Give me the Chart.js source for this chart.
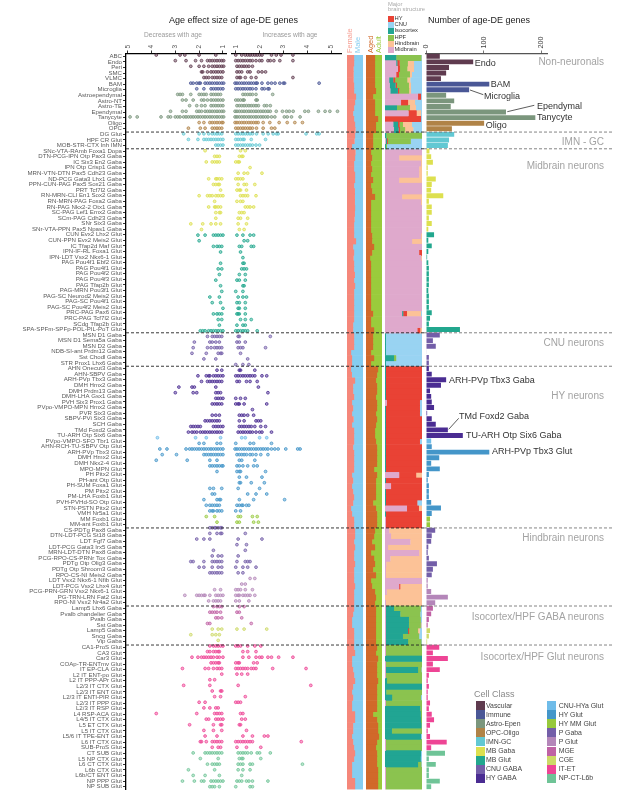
<!DOCTYPE html>
<html lang="en">
<head>
<meta charset="UTF-8">
<title>Age-DE genes by cell type</title>
<script src="https://cdn.jsdelivr.net/npm/chart.js"></script>
<style>
    html, body { margin: 0; padding: 0; background: #fff; overflow: hidden; }
    body { width: 626px; height: 807px; position: relative; font-family: "Liberation Sans", Arial, sans-serif; }
    canvas { position: absolute; top: 0; }
    svg { position: absolute; left: 0; top: 0; }
    .txt { position: absolute; white-space: nowrap; line-height: 1; transform: translateY(-50%); }
    .rot { position: absolute; white-space: nowrap; line-height: 1; transform-origin: 0 0; transform: rotate(-90deg) translateY(-50%); }
    .swatch { position: absolute; }
</style>
</head>
<body>
<canvas id="dotsDown" width="227" height="807" style="left:0"></canvas>
<canvas id="dotsUp" width="111" height="807" style="left:231px"></canvas>
<canvas id="sexPanel" width="16" height="807" style="left:347px"></canvas>
<canvas id="agePanel" width="16" height="807" style="left:366px"></canvas>
<canvas id="brainPanel" width="37" height="807" style="left:385px"></canvas>
<canvas id="countBars" width="132" height="807" style="left:416px"></canvas>
<svg id="overlay" width="626" height="807"></svg>
<script>
// rows of the figure, top to bottom
const rowLabels = [
    'ABC', 'Endo', 'Peri', 'SMC', 'VLMC', 'BAM', 'Microglia', 'Astroependymal', 'Astro-NT', 'Astro-TE', 'Ependymal', 'Tanycyte', 'Oligo', 'OPC',
    'DG Glut', 'HPF CR Glut', 'MOB-STR-CTX Inh IMN',
    'SNc-VTA-RAmb Foxa1 Dopa', 'DTN-PCG-IPN Otp Pax3 Gaba', 'IC Six3 En2 Gaba', 'IPN Otp Crisp1 Gaba', 'MRN-VTN-DTN Pax5 Cdh23 Gaba', 'ND-PCG Gata3 Lhx1 Gaba', 'PPN-CUN-PAG Pax5 Sox21 Gaba', 'PRT Tcf7l2 Gaba', 'RN-MRN-CLI En1 Sox2 Gaba', 'RN-MRN-PAG Foxa2 Gaba', 'RN-PAG Nkx2-2 Otx1 Gaba', 'SC-PAG Lef1 Emx2 Gaba', 'SCm-PAG Cdh23 Gaba', 'SNr Six3 Gaba', 'SNr-VTA-PPN Pax5 Npas1 Gaba',
    'CUN Evx2 Lhx2 Glut', 'CUN-PPN Evx2 Meis2 Glut', 'IC Tfap2d Maf Glut', 'IPN-IF-RL Foxa1 Glut', 'IPN-LDT Vsx2 Nkx6-1 Glut', 'PAG Pou4f1 Ebf2 Glut', 'PAG Pou4f1 Glut', 'PAG Pou4f2 Glut', 'PAG Pou4f3 Glut', 'PAG Tfap2b Glut', 'PAG-MRN Pou3f1 Glut', 'PAG-SC Neurod2 Meis2 Glut', 'PAG-SC Pou4f1 Glut', 'PAG-SC Pou4f2 Meis2 Glut', 'PRC-PAG Pax6 Glut', 'PRC-PAG Tcf7l2 Glut', 'SCdg Tfap2b Glut', 'SPA-SPFm-SPFp-POL-PIL-PoT Glut',
    'MSN D1 Gaba', 'MSN D1 Sema5a Gaba', 'MSN D2 Gaba', 'NDB-SI-ant Prdm12 Gaba', 'Sst Chodl Gaba', 'STR Prox1 Lhx6 Gaba',
    'AHN Onecut3 Gaba', 'AHN-SBPV Gaba', 'ARH-PVp Tbx3 Gaba', 'DMH Hmx2 Gaba', 'DMH Prdm13 Gaba', 'DMH-LHA Gsx1 Gaba', 'PVH Six3 Prox1 Gaba', 'PVpo-VMPO-MPN Hmx2 Gaba', 'PVR Six3 Gaba', 'SBPV-PVi Six3 Gaba', 'SCH Gaba', 'TMd Foxd2 Gaba', 'TU-ARH Otp Six6 Gaba',
    'PVpo-VMPO-SFO Tbr1 Glut', 'AHN-RCH-TU-SBPV Otp Glut', 'ARH-PVp Tbx3 Glut', 'DMH Hmx2 Glut', 'DMH Nkx2-4 Glut', 'MPO-MPN Glut', 'PH Pitx2 Glut', 'PH-ant Otp Glut', 'PH-SUM Foxa1 Glut', 'PM Pitx2 Glut', 'PM-LHA Foxb1 Glut', 'PVH-PVHd-SO Otp Glut', 'STN-PSTN Pitx2 Glut', 'VMH Nr5a1 Glut', 'MM Foxb1 Glut', 'MM-ant Foxb1 Glut',
    'CS-PDTg Pax8 Gaba', 'DTN-LDT-PCG St18 Gaba', 'LDT Fgf7 Gaba', 'LDT-PCG Gata3 Irx5 Gaba', 'MRN-LDT-DTN Pax8 Gaba', 'PCG-RPO-CS-PRNr Tox Gaba', 'PDTg Otp Olig3 Gaba', 'PDTg Otp Shroom3 Gaba', 'RPO-CS-NI Meis2 Gaba', 'LDT Vsx2 Nkx6-1 Nfib Glut', 'LDT-PCG Vsx2 Lhx4 Glut', 'PCG-PRN-GRN Vsx2 Nkx6-1 Glut', 'PG-TRN-LRN Fat2 Glut', 'RPO-NI Vsx2 Nr4a2 Glut',
    'Lamp5 Lhx6 Gaba', 'Pvalb chandelier Gaba', 'Pvalb Gaba', 'Sst Gaba', 'Lamp5 Gaba', 'Sncg Gaba', 'Vip Gaba',
    'CA1-ProS Glut', 'CA3 Glut', 'Car3 Glut', 'COAp-TR-ENTmv Glut', 'IT EP-CLA Glut', 'L2 IT ENT-po Glut', 'L2 IT PPP-APr Glut', 'L2/3 IT CTX Glut', 'L2/3 IT ENT Glut', 'L2/3 IT ENTl-PIR Glut', 'L2/3 IT PPP Glut', 'L2/3 IT RSP Glut', 'L4 RSP-ACA Glut', 'L4/5 IT CTX Glut', 'L5 ET CTX Glut', 'L5 IT CTX Glut', 'L5/6 IT TPE-ENT Glut', 'L6 IT CTX Glut', 'SUB-ProS Glut',
    'CT SUB Glut', 'L5 NP CTX Glut', 'L6 CT CTX Glut', 'L6b CTX Glut', 'L6b/CT ENT Glut', 'NP PPP Glut', 'NP SUB Glut'
];

const cellClasses = ['Vascular', 'Immune', 'Astro-Epen', 'OPC-Oligo', 'IMN-GC', 'MB Gaba', 'MB Glut', 'CNU GABA', 'HY GABA', 'CNU-HYa Glut', 'HY Glut', 'HY MM Glut', 'P Gaba', 'P Glut', 'MGE', 'CGE', 'IT-ET', 'NP-CT-L6b'];
const cellClassColors = ['#5f3b4f', '#4a5796', '#7b967d', '#b08347', '#62c8d3', '#dde04f', '#22a78e', '#735ea8', '#4a2c92', '#6fbce9', '#4496c9', '#97c93c', '#735ea8', '#b486b9', '#c062a5', '#cdd966', '#ee4595', '#6fc497'];
// how many consecutive rows belong to each cell class
const cellClassRows = [5, 2, 5, 2, 3, 15, 18, 6, 13, 1, 13, 2, 9, 5, 4, 3, 19, 7];

const sectionBreaks = [14, 17, 50, 56, 85, 99, 106];

// the dot panel has one row fewer than the label column: no dots for this label
const rowWithoutDots = 'PVpo-VMPO-MPN Hmx2 Gaba';

// absolute age effect, genes going down with age, one list per dot row
const decreaseEffect = [
    [3.8,2.8,2.6,2,1.3],
    [3,2.55,2.15,1.9,1.65,1.55,1.45,1.35,1.25,1.15,1.05,0.97],
    [2.35,2,1.8,1.6,1.45,1.35,1.25,1.15,1.05,0.97],
    [1.9,1.85,1.65,1.5,1.4,1.3,1.2,1.1,1],
    [1.8,1.7,1.6,1.45,1.35,1.25,1.15,1.05],
    [2.35,2.25,2.1,2,1.95,1.75,1.65,1.55,1.45,1.35,1.25,1.15,1.05,0.97],
    [2.1,1.8,1.5,1.4,1.3,1.2,1.1,1],
    [2.9,2.8,2.7,2.35,2,1.9,1.8,1.7,1.5,1.4,1.3,1.2,1.1],
    [2.7,2.55,2.25,1.9,1.8,1.65,1.5,1.4,1.3,1.2,1.1,1],
    [2.4,2.1,1.9,1.75,1.5,1.4,1.3,1.2,1.1,1],
    [3.2,2.7,2.55,2.1,2,1.9,1.75,1.65,1.55,1.45,1.35,1.25,1.15,1.05,0.97],
    [4.9,4.6,3.6,3.3,3.2,3,2.9,2.8,2.65,2.55,2.45,2.35,2.25,2.15,2.05,1.95,1.85,1.75,1.65,1.55,1.45,1.35,1.25,1.15,1.05,0.97],
    [2,1.8,1.55,1.45,1.35,1.25,1.15,1.05,1],
    [2.45,1.95,1.75,1.45,1.35,1.25,1.15,1.05],
    [2.65,2,1.8,1.6,1.45,1.35,1.25,1.15,1.05],
    [2.45,2.05,1.8,1.7,1.6,1.5,1.4,1.3,1.2,1.1,1],
    [1.3,1.2,1.1,1],
    [1.75],
    [1.35,1.25,1.15],
    [1.7,1.45,1.35,1.25,1.15],
    [],
    [],
    [1.6,1.3,1.25,1.15,1.05],
    [1.4,1.3,1.2,1.15],
    [1.1],
    [2,1.65,1.55,1.45,1.3,1.2,1.1,1],
    [1.35],
    [1.6,1.35,1.3,1.2,1.1],
    [1.3,1.15,1.1],
    [1.3],
    [2.35,1.85,1.5,1.3,1.1],
    [1.9],
    [2.05,1.75,1.4,1.3,1.2,1.1,1],
    [2],
    [1.4,1.25,1.15,1.05],
    [1.1],
    [],
    [1.1],
    [1.2,1.05],
    [1.15],
    [1.3],
    [1.1],
    [1.05],
    [1.55,1.15],
    [1.45,1.1],
    [1],
    [1.4,1.25,1.15,1.05],
    [1.2,1.05],
    [1.15],
    [1.95,1.85,1.75,1.6,1.5,1.4,1.3,1.2,1.1,1],
    [1.65,1.45,1.35,1.25,1.15,1.05],
    [2.2,1.55,1.45,1.3,1.15],
    [2.25,1.65,1.5,1.35,1.25,1.15,1.05],
    [2.3,1.7,1.2,1.1,1.05],
    [1.8,1.3],
    [],
    [1.25,1.05],
    [2.05,1.7,1.6,1.55,1.4,1.3,1.2,1.1,1],
    [1.9,1.65,1.55,1.45,1.35,1.25,1.15,1.05],
    [2.85,2.3,2.2,1.3],
    [3,2.25,2.1,1.3,1.2,1.1],
    [1.3,1.2,1.1,1],
    [1.45,1.35,1.25,1.15,1.05],
    [],
    [1.45,1.3,1.15],
    [1.75,1.65,1.55,1.45,1.35,1.25,1.15],
    [2.35,2.25,2.15,2.05,1.95,1.4,1.3,1.2,1.1,1],
    [2.45,2.3,2.2,2.1,1.95,1.85,1.75,1.65,1.55,1.45,1.35,1.25,1.15,1.05],
    [3.75,2.15,1.7,1.1],
    [2,1.8,1.25,1.1],
    [3.65,3.35,2.55,2.4,2.3,2.2,2.1,2,1.9,1.8,1.7,1.6,1.5,1.4,1.3,1.2,1.1,1],
    [3.55,2.95,1.8,1.7,1.6,1.5,1.4,1.3,1.2,1.1,1],
    [3.8,2.5,1.55,1.25],
    [1.55,1.45,1.35,1.25,1.15,1.05,1],
    [1.25],
    [],
    [],
    [1.55,1.4,1.05],
    [1.45,1.35],
    [1.8,1.25,1.15,1.1],
    [1.7,1.55,1.45,1.35,1.25,1.15],
    [1.55,1.45,1.4,1.25,1.15,1.05],
    [1.7,1.35],
    [1.25],
    [1.55,1.45,1.35,1.3,1.2,1.1,1.05],
    [1.55,1.25,1.1,1.05],
    [2.1,1.8,1.55],
    [],
    [1.4],
    [1.45,1.2,1.05],
    [2.35,2.25,1.8,1.45,1.35,1.25,1.15,1.05],
    [2,1.8,1.45,1.2,1.05],
    [1.55,1.45,1.35,1.25,1.15,1.05],
    [],
    [],
    [1.35,1.1],
    [2.6,2.1,2,1.9,1.8,1.75,1.55,1.3,1.2,1.1,1],
    [1.6,1.4,1.3,1.2,1.1],
    [1.4,1.25,1.15,1.05],
    [1.55,1.45,1.35,1.25,1.1],
    [1.3,1.2,1.05],
    [1.65,1.55],
    [1.45,1.2,1.05],
    [2.35,1.45,1.3,1.15],
    [1.2],
    [1.55,1.4,1.3,1.2,1.1,1],
    [1.65,1.55,1.4,1.3,1.2,1.15],
    [2.3,2.05,1.9,1.8,1.7,1.6,1.5,1.4,1.25,1.15,1],
    [1.5,1.4,1.3,1.2,1.15],
    [2.7,1.75,1.6,1.4,1.25,1.15,1.05],
    [1.05],
    [1.55,1.35],
    [2.65,1.55],
    [1.45,1.1,1.05],
    [1.35,1.1],
    [2,1.75],
    [1.8,1.55,1.3,1.2],
    [3.8,2.1,1.35,1.25,1.15,1.05],
    [1.7,1.6,1.3,1.2,1.1,1],
    [2.4,1.4,1.1,1.05],
    [1.8,1.4,1.05],
    [1.75,1.25],
    [1.95,1.9,1.7,1.45,1.35,1.25,1.15,1.05],
    [1.45,1.2,1.1],
    [2.25,1.75,1.65,1.55,1.45,1.35,1.25,1.15,1.05],
    [1.95,1.2],
    [1.65,1.45,1.35,1.25,1.15],
    [2.45,1.35],
    [2.25,1.75,1.15],
    [2.7,2.2,1.9,1.8,1.5,1.4,1.3,1.2,1.1,1],
    [1.55,1.45,1.35,1.15]
];

// age effect, genes going up with age, one list per dot row
const increaseEffect = [
    [1,1.25,1.4,1.5,1.6,1.7,1.8,1.9,2,2.1,2.5,2.7,2.9,3.4],
    [1,1.1,1.2,1.3,1.4,1.5,1.6,1.7,1.85,2,2.1,2.35,2.45,2.6,2.85,3.4],
    [1.05,1.15,1.25,1.35,1.45,1.55,1.7],
    [1.05,1.15,1.25,1.5,1.6,1.95,2.1,2.25],
    [1.05,1.15,1.2,1.4,1.65,1.85,3.4],
    [0.97,1.05,1.15,1.25,1.35,1.45,1.55,1.65,1.75,1.85,1.9,2.1,2.35,2.5,2.65,2.85,3,3.05,4.5],
    [1,1.1,1.2,1.3,1.4,1.5,1.6,1.7,1.85,2.1,2.2,2.35,2.4],
    [1.3,1.4,1.5,1.6,1.7,1.85,2.55],
    [1,1.1,1.2,1.3,1.35,1.85,1.9],
    [1.05,1.15,1.25,1.35,1.45,1.55,1.65,1.75,1.85,1.95,2.2,2.3,2.45],
    [0.97,1.05,1.15,1.25,1.35,1.45,1.55,1.65,1.75,1.85,1.95,2.05,2.15,2.25,2.35,2.45,2.7,2.96,3.13,3.25,3.41,3.9,4.05,4.47,4.75,4.95,5.27],
    [0.97,1.05,1.15,1.25,1.35,1.45,1.55,1.65,1.75,1.85,1.95,2.05,2.15,2.25,2.35,2.5,2.64,3.04,3.16,3.34,3.7],
    [0.97,1.05,1.15,1.25,1.35,1.45,1.55,1.65,1.75,1.85,1.94,2.15,2.43,2.82,3.16,3.48,3.8],
    [1,1.1,1.2,1.3,1.4,1.5,1.6,1.7,1.87,2.15,2.5,2.64],
    [1,1.1,1.2,1.3,1.4,1.5,1.6,1.7,1.87,2.15,2.36,2.57,2.71,2.78,3.95,4.4,4.5],
    [1,1.1,1.2,1.3,1.35,1.65,2.25],
    [1,1.1,1.2,1.3,1.4,1.5,1.6,1.7,1.85,2],
    [1.2,1.4],
    [1.15,1.25,1.3],
    [1,1.1,1.15],
    [1.6],
    [1.1,1.35,1.5,2.1],
    [1,1.1,1.2,1.3],
    [1.1,1.35,1.45,1.8],
    [1.05,1.15,1.2,1.45],
    [1.2,1.3,1.4,1.5,1.85],
    [1.05,1.2,1.3],
    [1.4,1.5,1.6,1.75],
    [1.15,1.25,1.35],
    [1.1,1.2,1.5],
    [1.1,1.45],
    [1.15,1.35],
    [1.05,1.3,1.6,1.75],
    [1.35,1.5],
    [1.15,1.25,1.65,1.75],
    [1.2],
    [1.3],
    [1.3,1.35],
    [1.25,1.35,1.45],
    [1.15,1.4],
    [1.05,1.15,1.4],
    [1.3,1.35],
    [1,1.3],
    [1.1,1.3,1.45],
    [1.05,1.15,1.4],
    [1.1,1.15,1.4],
    [1.05,1.1,1.15,1.4],
    [1.2,1.4,1.65],
    [1.05,1.3,1.4],
    [1,1.1,1.2,1.3,1.4,1.5,1.9],
    [1.1,1.15,2.45],
    [1.05,1.15,1.4],
    [1.1,1.2,1.3,2.25],
    [1.2],
    [1.5],
    [1,1.3,1.55],
    [1.15,1.2,1.8],
    [1,1.1,1.2,1.3,1.4,1.5,1.6,1.7,1.8,2.1,2.3],
    [1.05,1.15,1.45,1.6,1.9],
    [1.95],
    [2.35],
    [1,1.2,1.4],
    [1,1.1,1.15,1.35,2.3],
    [1.7],
    [1.15,1.25,1.35,1.5,1.75],
    [1.15,1.35,1.85,1.95,2.05],
    [1.15,1.25,1.35,1.45,1.55,1.65,1.8,2.05,2.25],
    [1.1,1.2,1.3,1.4,1.5,1.6,1.7,1.85,2,2.1,2.5],
    [1.25,1.4,2,2.3],
    [1,1.6,1.75,2.5],
    [0.97,1.05,1.15,1.25,1.35,1.45,1.55,1.65,1.75,1.85,1.95,2.05,2.15,2.25,2.35,2.5,2.64,2.78,3.1,3.6,3.7],
    [1.05,1.15,1.25,1.35,1.45,1.6,1.7,1.85,2.05,2.35],
    [1.15,1.25,1.8],
    [1.05,1.15,1.3,1.5,1.75,1.9],
    [1.05,1.15,1.2,2.25],
    [1.15,1.45,2.1],
    [1.15,1.2,1.65,2.2],
    [1.1,2],
    [1.5,1.85,2.3],
    [1.15,1.75,3.05],
    [1.05,1.15,1.25,1.3,1.45,1.55],
    [1,1.2],
    [1.1,1.2,1.7,1.9],
    [1.05,1.15,1.75,1.95],
    [],
    [1.4],
    [1.1,2.1],
    [1.05,1.45],
    [1.4],
    [1.1],
    [1.05,1.4,1.5,1.6],
    [1,1.3,1.5,1.85],
    [1.1,1.3],
    [1.6,1.8],
    [1.25,1.4],
    [1,1.1,1.2,1.4,1.7],
    [1,1.1,1.15,1.3,1.4,1.5,1.6,1.8],
    [1,1.15,1.55],
    [1.15,1.35],
    [1.05,1.15],
    [1.25],
    [1.65],
    [1.05,1.35,2.3],
    [],
    [],
    [1,1.1,1.2,1.5,1.8,2.05],
    [1.3,1.5,1.85],
    [1.3,1.55,1.85,2,2.1,2.35,2.5,2.8,3.4],
    [1,1.1,1.15,1.75,1.9],
    [1,1.1,1.2,1.3,1.4,1.5,1.65,1.75,1.85,2.55,3.95],
    [1.05,1.25,1.5],
    [],
    [1.1,4.15],
    [],
    [1.4],
    [1,1.1,1.2],
    [],
    [1.2,1.3],
    [1.25,1.4],
    [1.15,1.2],
    [1.45],
    [1.3,1.7,2.2,2.35],
    [1,1.1,1.2,1.3,1.4,1.5,1.6,1.7,3.75],
    [1.05,1.45,2.05],
    [1.1,1.2,1.3,1.4,1.5,1.65,1.9,2,2.45],
    [1.15,1.25,1.3,2.05],
    [1.1,1.2,1.3,1.6,1.7,3.8],
    [1.1,1.3,1.6],
    [1.25],
    [1.05,1.15,1.25,1.45,1.55,1.7,2.35],
    [1,1.6,1.7]
];

// % female cells per row
const femaleShare = [
    44,44,40,40,40,44,44,56,50,44,38,44,50,52,
    50,46,31,
    52,50,44,44,50,50,44,48,48,48,50,48,46,44,44,44,56,38,44,40,44,44,48,44,50,44,44,44,44,44,44,38,38,
    44,44,44,25,31,31,
    25,29,50,38,38,44,31,38,31,40,31,44,44,44,38,44,44,44,44,31,38,31,38,44,38,25,31,44,44,
    50,50,44,50,44,44,50,44,44,44,50,44,44,44,
    44,38,31,31,44,44,44,
    44,50,31,31,38,44,50,38,31,38,31,31,50,50,38,38,31,38,44,50,44,31,31,31,50,50
];

// % cells from aged mice per row
const agedShare = [
    56,56,56,56,56,56,62,44,56,56,56,75,62,62,
    44,44,44,
    31,38,31,38,31,44,31,38,56,31,31,31,31,31,31,38,38,50,38,25,31,31,31,31,31,31,31,31,31,44,31,31,50,
    44,44,44,31,50,31,
    75,69,62,69,69,62,69,69,62,69,62,56,56,62,69,69,69,69,50,69,62,62,62,62,44,62,69,69,69,
    56,50,38,56,31,50,56,44,62,31,38,56,62,56,
    62,62,62,62,62,62,62,
    69,62,75,69,69,69,75,69,69,69,69,69,44,69,75,75,81,69,62,69,69,69,75,75,75,75
];

// major brain structure composition per row, %
const midbrainShare = [
    0,30,34,30,11,12,14,89,43,0,63,0,22,24,
    0,2,0,
    100,38,97,92,92,38,100,100,46,97,100,100,100,100,100,97,73,100,92,97,100,100,100,100,100,100,100,100,100,46,100,100,87,
    0,0,0,0,0,0,
    0,0,0,0,0,0,4,0,0,0,0,0,0,0,0,0,0,0,0,38,0,16,0,0,0,59,0,2,2,
    11,16,68,8,92,14,3,2,2,100,38,4,0,2,
    2,2,2,2,2,2,2,
    2,2,0,2,2,2,0,0,0,0,2,0,0,0,0,0,0,2,2,0,0,0,2,2,2,2
];
const isocortexShare = [
    30,3,0,0,11,16,20,0,0,32,0,0,13,12,
    3,3,2,
    0,0,0,0,0,0,0,0,0,0,0,0,0,0,0,0,0,0,0,0,0,0,0,0,0,0,0,0,0,3,0,0,0,
    2,2,2,2,24,2,
    2,2,2,2,2,2,0,2,2,2,2,2,2,2,2,2,2,2,2,0,2,0,2,2,2,0,2,0,0,
    0,0,0,0,0,0,0,0,0,0,0,0,0,0,
    22,39,62,62,60,46,60,
    0,0,100,0,87,0,5,100,3,19,0,95,96,97,98,18,97,0,0,97,96,89,0,0,0,0
];
const hyShare = [
    0,6,6,7,5,4,4,8,19,0,22,97,4,4,
    0,2,0,
    0,0,0,0,0,0,0,0,0,0,0,0,0,0,0,0,0,0,8,0,0,0,0,0,0,0,0,0,0,10,0,0,8,
    0,0,0,0,0,0,
    98,98,98,98,98,98,90,92,92,98,98,98,98,92,98,98,98,98,98,46,98,84,98,98,85,32,98,98,98,
    0,0,0,0,0,0,0,0,0,0,3,0,0,0,
    0,0,0,0,3,0,0,
    0,0,0,0,0,0,0,0,0,0,0,0,0,0,0,0,0,0,0,0,0,0,0,0,0,0
];
const hpfShare = [
    68,22,20,30,33,32,27,0,0,35,0,0,9,14,
    97,62,3,
    0,0,0,0,0,0,0,0,0,0,0,0,0,0,0,0,0,0,0,0,0,0,0,0,0,0,0,0,0,0,0,0,0,
    0,0,0,0,6,0,
    0,0,0,0,0,0,0,0,0,0,0,0,0,0,0,0,0,0,0,0,0,0,0,0,0,0,0,0,0,
    0,0,0,0,0,0,0,0,0,0,0,0,0,0,
    72,54,32,32,24,44,36,
    98,98,0,98,9,98,95,0,97,78,98,5,4,3,2,82,0,98,98,0,0,9,98,98,98,98
];
const hindbrainShare = [
    0,17,18,5,8,6,5,0,19,16,12,0,24,22,
    0,0,0,
    0,62,3,8,8,62,0,0,54,3,0,0,0,0,0,3,27,0,0,3,0,0,0,0,0,0,0,0,0,38,0,0,5,
    0,0,0,0,0,0,
    0,0,0,0,0,0,0,0,0,0,0,0,0,0,0,0,0,0,0,16,0,0,0,0,0,8,0,0,0,
    89,84,32,92,8,86,97,98,98,0,59,96,100,98,
    0,0,0,2,4,0,0,
    0,0,0,0,0,0,0,0,0,0,0,0,0,0,0,0,0,0,0,0,0,0,0,0,0,0
];
const cnuShare = [
    2,22,22,28,32,30,30,3,19,17,3,3,28,24,
    0,31,95,
    0,0,0,0,0,0,0,0,0,0,0,0,0,0,0,0,0,0,0,0,0,0,0,0,0,0,0,0,0,3,0,0,0,
    98,98,98,98,70,98,
    0,0,0,0,0,0,6,6,6,0,0,0,0,6,0,0,0,0,0,0,0,0,0,0,13,3,0,0,0,
    0,0,0,0,0,0,0,0,0,0,0,0,0,0,
    4,5,4,2,7,8,2,
    0,0,0,0,2,0,0,0,0,3,0,0,0,0,0,0,3,0,0,3,4,2,0,0,0,0
];

// number of age-DE genes per row
const geneCounts = [
    24,82,40,35,26,110,75,35,49,43,139,190,101,45,
    49,40,38,
    6,9,12,3,3,17,10,9,30,5,10,10,5,10,4,14,4,10,4,2,4,5,5,5,5,4,5,5,5,10,7,5,59,
    24,12,17,1,5,5,
    5,10,35,26,7,9,10,14,2,10,17,38,64,9,10,110,23,9,24,5,3,5,5,5,9,26,10,7,7,
    16,10,9,4,3,5,19,12,10,3,3,9,38,16,
    12,9,5,3,7,5,2,
    23,12,38,12,24,5,3,5,3,3,7,5,10,14,7,3,7,36,9,33,5,17,5,5,24,9
];

const effectTicks = [1, 2, 3, 4, 5];
const countTicks = [0, 100, 200];

const structureNames = ['HY', 'CNU', 'Isocortex', 'HPF', 'Hindbrain', 'Midbrain'];
const structureColors = { Midbrain: '#dfa9cc', Isocortex: '#21a593', HY: '#e94235', HPF: '#8bc34f', Hindbrain: '#fcc297', CNU: '#99d3f2' };

const sectionTitles = [['Non-neuronals', 62], ['IMN - GC', 141.7], ['Midbrain neurons', 165.7], ['CNU neurons', 343], ['HY neurons', 396], ['Hindbrain neurons', 538], ['Isocortex/HPF GABA neurons', 616.7], ['Isocortex/HPF Glut neurons', 657.3]];
const barNotes = [['Endo', 474.7, 63], ['BAM', 490.7, 84], ['Microglia', 484, 96], ['Ependymal', 537, 106], ['Tanycyte', 537, 117], ['Oligo', 485.7, 125], ['ARH-PVp Tbx3 Gaba', 449, 379.7], ['TMd Foxd2 Gaba', 459, 416], ['TU-ARH Otp Six6 Gaba', 466, 434.7], ['ARH-PVp Tbx3 Glut', 492, 450.7]];
const noteLeaders = [[470, 90, 483.3, 94.7], [507.3, 111.7, 534.3, 105.3], [448.7, 429.3, 458.7, 418.3]];

// shared vertical frame of all panels
const plotTop = 53.5, plotBottom = 789.5;
const rowHeight = (plotBottom - plotTop) / rowLabels.length;

const rowColors = cellClassRows.flatMap((n, i) => Array(n).fill(cellClassColors[i]));
const dotRowColors = rowColors.filter((c, i) => rowLabels[i] !== rowWithoutDots);

Chart.defaults.font.family = '"Liberation Sans", Arial, sans-serif';
Chart.defaults.animation = false;
Chart.defaults.responsive = false;
Chart.defaults.maintainAspectRatio = false;
Chart.defaults.plugins.legend.display = false;
Chart.defaults.plugins.tooltip.enabled = false;

function topAxisFit(scale) {
    scale.height = plotTop;
    scale.paddingLeft = 0;
    scale.paddingRight = 0;
}

function effectAxis(min, max, reverse) {
    return {
        type: 'linear', position: 'top', min: min, max: max, reverse: reverse,
        afterFit: topAxisFit,
        afterBuildTicks: s => { s.ticks = effectTicks.map(v => ({ value: v })); },
        grid: { drawOnChartArea: false, tickLength: 3, color: '#000', tickWidth: 0.8 },
        border: { color: '#000', width: 1.3 },
        // rotated labels end up left of their tick otherwise
        ticks: { minRotation: 90, maxRotation: 90, padding: 2, labelOffset: 8, color: '#555', font: { size: 6.5 } }
    };
}

function dotDataset(effects) {
    const points = [], colors = [];
    effects.forEach((list, row) => list.forEach(v => {
        points.push({ x: v, y: row });
        colors.push(dotRowColors[row]);
    }));
    return {
        data: points,
        yAxisID: 'yDots',
        pointRadius: 1.4,
        pointBorderWidth: 0.8,
        pointBorderColor: colors,
        pointBackgroundColor: colors.map(c => c + '77')
    };
}

// dot rows are a little wider spaced than the label rows
const dotRowAxis = { type: 'linear', display: false, reverse: true, min: -0.27, max: 130.5 };

new Chart(document.getElementById('dotsDown'), {
    type: 'scatter',
    data: { datasets: [dotDataset(decreaseEffect)] },
    options: {
        layout: { autoPadding: false, padding: { bottom: 807 - plotBottom } },
        scales: {
            x: effectAxis(0.83, 5.07, true),
            y: {
                type: 'category', labels: rowLabels, offset: true, position: 'left',
                afterFit: s => { s.width = 126; },
                grid: { drawOnChartArea: false, tickLength: 3, color: '#000', tickWidth: 0.8 },
                border: { color: '#000', width: 1.3 },
                ticks: { autoSkip: false, padding: 1, color: '#5a5a5a', font: { size: 6.1 } }
            },
            yDots: dotRowAxis
        }
    }
});

new Chart(document.getElementById('dotsUp'), {
    type: 'scatter',
    data: { datasets: [dotDataset(increaseEffect)] },
    options: {
        layout: { autoPadding: false, padding: { bottom: 807 - plotBottom } },
        scales: {
            x: effectAxis(0.8, 5.46, false),
            y: { display: false },
            yDots: dotRowAxis
        }
    }
});

function stackedPanel(id, series) {
    new Chart(document.getElementById(id), {
        type: 'bar',
        data: {
            labels: rowLabels,
            datasets: series.map(s => ({
                data: s.values, backgroundColor: s.color, borderColor: s.color, borderWidth: 0.2,
                barPercentage: 1, categoryPercentage: 1
            }))
        },
        options: {
            indexAxis: 'y',
            layout: { padding: { top: plotTop + 1.5, bottom: 807 - plotBottom } },
            scales: {
                x: { display: false, stacked: true, min: 0, max: 100 },
                y: { display: false, stacked: true }
            }
        }
    });
}

stackedPanel('sexPanel', [
    { values: femaleShare, color: '#f5877a' },
    { values: femaleShare.map(v => 100 - v), color: '#85cdf0' }
]);
stackedPanel('agePanel', [
    { values: agedShare, color: '#d1692a' },
    { values: agedShare.map(v => 100 - v), color: '#9acb3c' }
]);
stackedPanel('brainPanel', [
    { values: midbrainShare, color: structureColors.Midbrain },
    { values: isocortexShare, color: structureColors.Isocortex },
    { values: hyShare, color: structureColors.HY },
    { values: hpfShare, color: structureColors.HPF },
    { values: hindbrainShare, color: structureColors.Hindbrain },
    { values: cnuShare, color: structureColors.CNU }
]);

new Chart(document.getElementById('countBars'), {
    type: 'bar',
    data: {
        labels: rowLabels,
        datasets: [{ data: geneCounts, backgroundColor: rowColors, barPercentage: 0.88, categoryPercentage: 1 }]
    },
    options: {
        indexAxis: 'y',
        layout: { autoPadding: false, padding: { left: 10, bottom: 807 - plotBottom } },
        scales: {
            x: {
                type: 'linear', position: 'top', min: 0, max: 212,
                afterFit: topAxisFit,
                afterBuildTicks: s => { s.ticks = countTicks.map(v => ({ value: v })); },
                grid: { drawOnChartArea: false, tickLength: 3, color: '#555', tickWidth: 0.8 },
                border: { color: '#555', width: 1.3 },
                ticks: { minRotation: 90, maxRotation: 90, padding: 2, labelOffset: 9, color: '#444', font: { size: 7.2 } }
            },
            y: { display: false }
        }
    }
});

// text and decoration around the charts
function addText(text, x, y, size, color, right) {
    const el = document.createElement('div');
    el.className = 'txt';
    el.textContent = text;
    el.style.top = y + 'px';
    if (right) el.style.right = (626 - x) + 'px'; else el.style.left = x + 'px';
    el.style.fontSize = size + 'px';
    el.style.color = color;
    document.body.appendChild(el);
}

function addRotated(text, x, bottom, size, color) {
    const el = document.createElement('div');
    el.className = 'rot';
    el.textContent = text;
    el.style.left = x + 'px';
    el.style.top = bottom + 'px';
    el.style.fontSize = size + 'px';
    el.style.color = color;
    document.body.appendChild(el);
}

function addSwatch(x, y, w, h, color) {
    const el = document.createElement('div');
    el.className = 'swatch';
    el.style.cssText += `left:${x}px;top:${y}px;width:${w}px;height:${h}px;background:${color}`;
    document.body.appendChild(el);
}

function addLine(x1, y1, x2, y2, color, dash, width) {
    const line = document.createElementNS('http://www.w3.org/2000/svg', 'line');
    line.setAttribute('x1', x1);
    line.setAttribute('y1', y1);
    line.setAttribute('x2', x2);
    line.setAttribute('y2', y2);
    line.setAttribute('stroke', color);
    line.setAttribute('stroke-width', width);
    if (dash) line.setAttribute('stroke-dasharray', dash);
    document.getElementById('overlay').appendChild(line);
}

addText('Age effect size of age-DE genes', 169, 20, 9, '#222');
addText('Decreases with age', 144, 34.5, 6.6, '#9a9a9a');
addText('Increases with age', 262.5, 34.5, 6.6, '#9a9a9a');
addText('Number of age-DE genes', 428, 20, 9, '#222');

addRotated('Female', 350, 52.6, 7.4, '#f6a297');
addRotated('Male', 358, 52.6, 7.4, '#85cdf0');
addRotated('Aged', 370.7, 52.6, 7.4, '#d1692a');
addRotated('Adult', 378.7, 52.6, 7.4, '#9acb3c');

addText('Major', 388, 5, 5.8, '#aaa');
addText('brain structure', 388, 10.3, 5.8, '#aaa');
structureNames.forEach((name, i) => {
    const h = (53 - 16) / structureNames.length;
    addSwatch(388, 16 + i * h, 6, h, structureColors[name]);
    addText(name, 394.5, 16 + (i + 0.5) * h, 5.8, '#333');
});

sectionTitles.forEach(t => addText(t[0], 604, t[1], 10, '#a3a3a3', true));
barNotes.forEach(n => addText(n[0], n[1], n[2], 9, '#333'));
noteLeaders.forEach(l => addLine(l[0], l[1], l[2], l[3], '#333', null, 0.8));

sectionBreaks.forEach(row => {
    const y = plotTop + rowHeight * row + 0.5;
    addLine(126, y, 424, y, '#222', '3 2', 0.9);
    addLine(424, y, 612, y, '#777', '3 2', 0.9);
});

addText('Cell Class', 474, 693.7, 9, '#8a8a8a');
cellClasses.forEach((name, i) => {
    const col = i < 9 ? 0 : 1, row = i % 9;
    const x = col ? 547.3 : 476, y = 701 + row * 9.1;
    addSwatch(x, y, 8.7, 9.1, cellClassColors[i]);
    addText(name, x + (col ? 11.4 : 10), y + 4.5, 6.9, '#444');
});
</script>
</body>
</html>
